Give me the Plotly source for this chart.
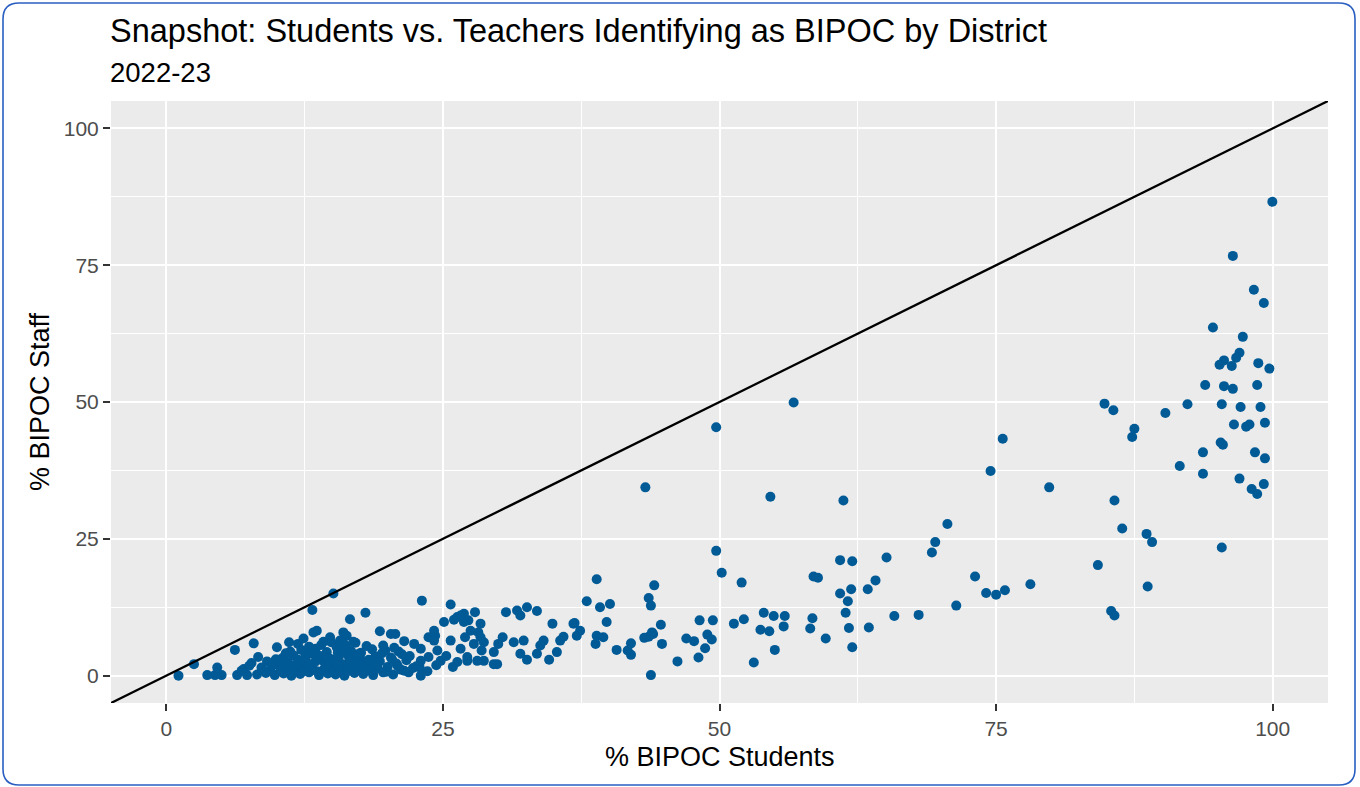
import plotly.graph_objects as go

# ---------------- data ----------------
high_x = [99.97, 96.4, 98.3, 99.2, 94.6, 97.3, 97.0, 96.7, 95.6, 95.2, 96.3, 98.7, 99.7, 93.9, 95.6, 96.4, 98.6,
          84.8, 85.6, 90.3, 92.3, 95.4, 97.1, 98.9, 87.5, 87.3, 96.5, 97.6, 97.9, 99.3, 95.3, 95.5, 93.7, 98.4,
          99.3, 91.6, 93.7, 97.0, 99.2, 98.1, 98.6, 85.7, 86.4, 88.6, 89.1, 95.4, 84.2, 88.7, 79.8, 85.4, 85.7]
high_y = [86.6, 76.7, 70.5, 68.1, 63.6, 61.9, 59.0, 58.1, 57.6, 56.8, 56.6, 57.1, 56.1, 53.1, 52.9, 52.4, 53.1,
          49.7, 48.5, 48.0, 49.6, 49.6, 49.1, 49.1, 45.1, 43.6, 45.9, 45.5, 45.9, 46.2, 42.6, 42.2, 40.8, 40.8,
          39.7, 38.3, 36.9, 36.0, 35.0, 34.1, 33.2, 32.0, 26.9, 25.9, 24.4, 23.4, 20.2, 16.3, 34.4, 11.8, 11.0]

mid_x = [75.6, 74.5, 70.6, 69.5, 69.2, 65.1, 64.1, 63.4, 63.5, 65.8, 68.0, 71.4, 73.1, 74.1, 75.0, 75.8, 78.1,
         56.7, 49.7, 43.3, 54.6, 61.2, 49.7, 50.2, 52.0, 44.1, 43.6, 43.8, 60.9, 62.0, 58.5, 58.9, 60.9, 61.9,
         61.6, 61.4, 61.7, 62.0, 59.6, 58.4, 58.2, 54.0, 54.9, 55.9, 53.7, 54.5, 55.8, 55.0, 53.1, 51.3, 52.2,
         48.2, 49.4, 48.9, 49.3, 48.7, 48.1, 46.2, 47.0, 47.7, 44.7, 44.8, 43.2, 43.6, 44.0, 43.8]
mid_y = [43.3, 37.4, 27.7, 24.4, 22.5, 21.6, 17.4, 15.8, 8.8, 10.9, 11.1, 12.8, 18.1, 15.1, 14.8, 15.6, 16.7,
         49.9, 45.4, 34.4, 32.7, 32.0, 22.8, 18.8, 17.0, 16.5, 14.2, 12.8, 21.1, 20.9, 18.1, 17.9, 15.0, 15.8,
         13.6, 11.5, 8.7, 5.2, 6.8, 10.5, 8.6, 11.5, 10.9, 10.9, 8.4, 8.1, 9.0, 4.7, 2.4, 9.5, 10.3,
         10.1, 10.1, 7.5, 6.6, 5.0, 3.3, 2.6, 6.8, 6.3, 9.3, 5.8, 6.9, 7.1, 7.6, 0.1]

low_x = [38.9, 38.0, 39.2, 40.1, 39.8, 36.9, 37.4, 37.1, 38.9, 39.5, 38.8, 40.7, 41.7, 42.0, 43.9, 34.9, 35.6,
         35.9, 35.3, 34.6, 34.1, 33.8, 33.5, 32.6, 33.5, 31.7, 32.0, 30.7, 31.4, 32.3, 32.0, 32.6, 30.4, 30.0,
         29.6, 29.9, 28.7, 28.5, 28.7, 27.9, 28.4, 28.2, 27.3, 27.5, 27.8, 27.0, 27.2, 42.0, 36.8,
         15.1, 13.2, 16.6, 18.0, 23.1, 25.7, 26.9, 26.3, 25.1, 26.0, 24.2, 24.3, 23.7, 19.3, 20.3, 20.7, 16.0,
         16.3, 13.6, 13.3, 14.8, 23.0, 26.9, 25.7, 28.4, 24.2, 22.4, 23.0, 23.7, 24.5, 26.6, 27.2, 28.1, 29.6,
         23.0, 24.8, 26.6, 1.1, 2.5, 6.2, 7.9, 3.7, 4.4, 5.0, 4.6, 6.4, 7.3,
         22.9, 23.6, 24.4, 25.3, 25.9, 26.3, 21.9]
low_y = [17.6, 13.6, 12.5, 13.1, 9.8, 9.6, 8.2, 7.3, 7.3, 7.0, 5.8, 4.7, 4.6, 5.9, 7.9, 9.5, 6.4,
         7.1, 4.3, 2.9, 6.4, 5.5, 4.0, 12.5, 11.8, 11.9, 11.0, 11.6, 6.1, 6.4, 4.0, 2.9, 7.0, 5.8,
         4.3, 2.1, 6.1, 4.6, 2.7, 11.6, 9.5, 7.9, 10.1, 8.2, 5.8, 7.0, 2.7, 3.8, 9.5,
         15.0, 12.0, 10.3, 11.5, 13.7, 13.0, 11.3, 10.7, 9.8, 10.2, 8.2, 7.3, 7.0, 8.1, 7.6, 7.6, 7.9,
         7.3, 8.2, 7.9, 7.0, 0.0, 9.8, 6.4, 7.0, 6.4, 5.8, 4.9, 3.4, 4.6, 4.9, 3.4, 2.7, 2.1,
         2.7, 2.7, 11.0, 0.0, 2.1, 4.7, 5.9, 0.1, 0.1, 0.1, 1.5, 0.1, 0.1,
         1.5, 0.8, 1.9, 3.6, 1.6, 2.5, 0.6]

band_x = [8.2, 9.0, 9.8, 10.6, 11.3, 12.1, 12.9, 13.8, 14.6, 15.3, 16.1, 17.0, 17.8, 18.7, 19.6, 20.5,
          7.0, 8.6, 9.4, 10.9, 11.7, 12.4, 13.2, 14.1, 15.0, 15.8, 16.6, 17.3, 18.2, 19.1, 20.0, 21.2, 22.3,
          7.7, 9.1, 10.2, 11.0, 12.0, 12.8, 13.5, 14.3, 15.2, 16.0, 16.9, 17.7, 18.5, 19.3, 20.8, 21.7,
          8.3, 10.5, 11.5, 12.6, 13.9, 14.8, 15.6, 16.4, 17.2, 18.9, 20.3, 22.0,
          11.2, 12.2, 14.5, 15.9, 16.7, 17.6, 19.8, 21.0,
          12.9, 14.0, 15.4, 16.2, 18.1, 20.6,
          14.2, 15.7, 17.1, 21.5,
          6.8, 7.5, 8.9, 9.6, 10.3, 11.6, 12.3, 13.0, 13.6, 14.4, 15.1, 15.6, 16.4, 17.5, 18.4, 19.0, 19.9,
          20.9, 21.5, 22.6,
          9.9, 10.8, 11.9, 12.6, 13.3, 14.7, 15.5, 16.6, 17.4, 18.3, 19.5, 20.4, 21.3,
          11.9, 13.5, 14.9, 16.0, 16.9, 18.6, 19.6,
          10.0, 11.1, 12.4]
band_y = [0.2, 0.5, 0.1, 0.4, 0.0, 0.3, 0.6, 0.1, 0.4, 0.2, 0.0, 0.5, 0.3, 0.1, 0.6, 0.2,
          1.2, 1.5, 1.0, 1.4, 1.1, 1.6, 1.3, 0.9, 1.5, 1.2, 1.7, 1.0, 1.4, 1.3, 1.6, 1.1, 1.4,
          2.3, 2.6, 2.1, 2.5, 2.8, 2.2, 2.6, 2.4, 2.9, 2.1, 2.5, 2.7, 2.3, 2.6, 2.2, 2.8,
          3.4, 3.2, 3.7, 3.3, 3.6, 3.1, 3.5, 3.8, 3.2, 3.5, 3.3, 3.6,
          4.4, 4.7, 4.3, 4.8, 4.5, 4.2, 4.6, 4.4,
          5.3, 5.6, 5.2, 5.5, 5.4, 5.1,
          6.2, 6.4, 6.0, 6.3,
          0.9, 1.8, 0.8, 1.9, 0.9, 1.8, 0.7, 1.9, 0.8, 1.7, 0.7, 1.9, 0.8, 1.8, 0.9, 1.9, 0.7,
          1.8, 0.9, 1.7,
          3.0, 4.1, 2.9, 4.0, 3.9, 2.9, 4.2, 3.0, 4.0, 2.9, 4.1, 3.0, 3.9,
          5.8, 4.9, 6.1, 5.9, 6.2, 4.8, 5.5,
          5.2, 6.1, 6.8]

students = high_x + mid_x + low_x + band_x
staff = high_y + mid_y + low_y + band_y

axis_limits = [-5, 105]
tick_vals = [0, 25, 50, 75, 100]
tick_text = ["0", "25", "50", "75", "100"]
minor_vals = [-12.5, 12.5, 37.5, 62.5, 87.5, 112.5]

title_text = "Snapshot: Students vs. Teachers Identifying as BIPOC by District"
subtitle_text = "2022-23"
x_title = "% BIPOC Students"
y_title = "% BIPOC Staff"

# ---------------- layout geometry ----------------
W, H = 1360, 787
ML, MR, MT, MB = 111, 32, 101, 84
PW, PH = W - ML - MR, H - MT - MB


def px(xp):
    return (xp - ML) / PW


def py(yp):
    return 1 - (yp - MT) / PH


FONT = "Liberation Sans, Arial, sans-serif"

fig = go.Figure()
fig.add_trace(go.Scatter(
    x=students, y=staff, mode="markers",
    marker=dict(color="#005A96", size=10, line=dict(width=0)),
    hoverinfo="x+y", showlegend=False,
))
# identity reference line (y = x) across the axis limits
fig.add_trace(go.Scatter(
    x=axis_limits, y=axis_limits, mode="lines",
    line=dict(color="black", width=2.3), hoverinfo="skip", showlegend=False,
))

axis_common = dict(
    range=axis_limits, tickmode="array", tickvals=tick_vals, ticktext=tick_text,
    showgrid=True, gridcolor="white", gridwidth=2.3,
    zeroline=False, showline=False,
    ticks="outside", ticklen=7, tickwidth=2, tickcolor="#333333",
    tickfont=dict(family=FONT, size=21, color="#4D4D4D"),
    minor=dict(tickmode="array", tickvals=minor_vals,
               showgrid=True, gridcolor="white", gridwidth=1.2, ticks=""),
    fixedrange=True,
)

fig.update_layout(
    width=W, height=H,
    margin=dict(l=ML, r=MR, t=MT, b=MB, pad=0),
    paper_bgcolor="white", plot_bgcolor="#EBEBEB",
    xaxis=dict(**axis_common),
    yaxis=dict(**axis_common),
    font=dict(family=FONT),
)

# rounded border around the whole picture
x0, y0, x1, y1, r = 3, 3, 1355, 785, 16
pts = [
    f"M {px(x0 + r)},{py(y0)}",
    f"L {px(x1 - r)},{py(y0)}",
    f"Q {px(x1)},{py(y0)} {px(x1)},{py(y0 + r)}",
    f"L {px(x1)},{py(y1 - r)}",
    f"Q {px(x1)},{py(y1)} {px(x1 - r)},{py(y1)}",
    f"L {px(x0 + r)},{py(y1)}",
    f"Q {px(x0)},{py(y1)} {px(x0)},{py(y1 - r)}",
    f"L {px(x0)},{py(y0 + r)}",
    f"Q {px(x0)},{py(y0)} {px(x0 + r)},{py(y0)} Z",
]
fig.add_shape(type="path", path=" ".join(pts), xref="paper", yref="paper",
              line=dict(color="#2A5FC2", width=1.6), fillcolor="rgba(0,0,0,0)", layer="above")

fig.add_annotation(text=title_text, xref="paper", yref="paper", x=px(108), y=py(31),
                   xanchor="left", yanchor="middle", showarrow=False,
                   font=dict(family=FONT, size=32.5, color="black"))
fig.add_annotation(text=subtitle_text, xref="paper", yref="paper", x=px(108), y=py(73),
                   xanchor="left", yanchor="middle", showarrow=False,
                   font=dict(family=FONT, size=27.5, color="black"))
fig.add_annotation(text=x_title, xref="paper", yref="paper", x=0.5, y=py(757),
                   xanchor="center", yanchor="middle", showarrow=False,
                   font=dict(family=FONT, size=27, color="black"))
fig.add_annotation(text=y_title, xref="paper", yref="paper", x=px(40), y=0.5,
                   xanchor="center", yanchor="middle", showarrow=False, textangle=-90,
                   font=dict(family=FONT, size=27, color="black"))

fig.write_html("out.html", config={"displayModeBar": False},
               post_script="document.body.style.margin='0';document.body.style.overflow='hidden';")
